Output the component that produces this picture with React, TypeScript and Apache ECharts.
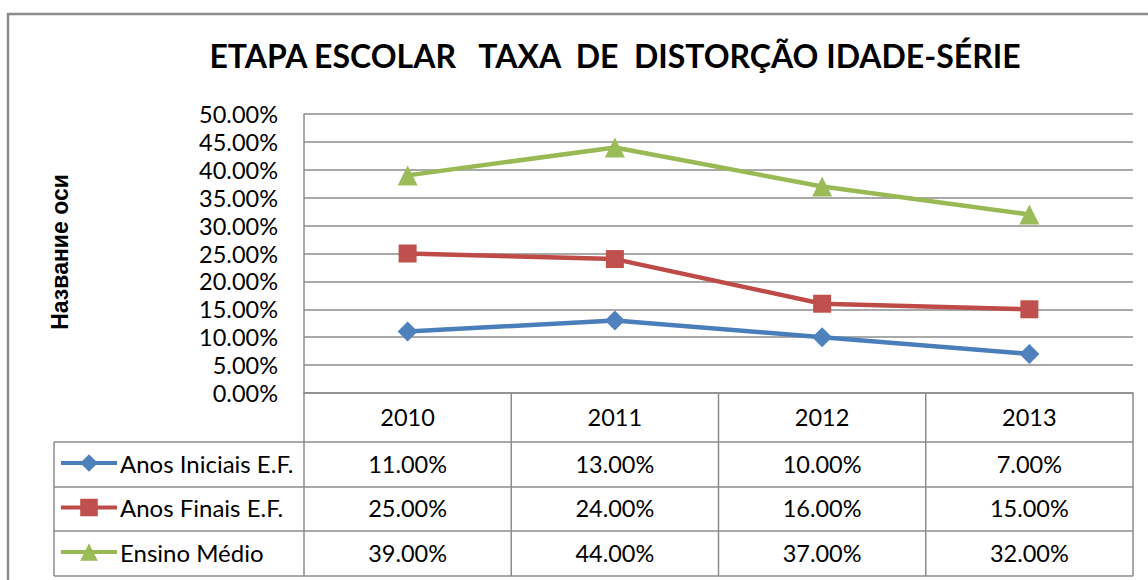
import React, { useEffect, useRef } from "react";
import * as echarts from "echarts";

const titleText = "ETAPA ESCOLAR   TAXA  DE  DISTORÇÃO IDADE-SÉRIE";
const yAxisTitle = "Название оси";
const categories = ["2010", "2011", "2012", "2013"];
const seriesNames = ["Anos Iniciais E.F.", "Anos Finais E.F.", "Ensino Médio"];
const anosIniciais = [11, 13, 10, 7];
const anosFinais = [25, 24, 16, 15];
const ensinoMedio = [39, 44, 37, 32];
const yMin = 0;
const yMax = 50;
const yStep = 5;

const W = 1148;
const H = 580;
const PLOT_L = 304;
const PLOT_R = 1133;
const PLOT_T = 114;
const PLOT_B = 393;
const TABLE_L = 54;
const ROW_LINES = [442, 487, 531, 576];
const GRID_COLOR = "#8c8c8c";
const FONT = "Lato, 'Noto Sans', sans-serif";
const NUM_SIZE = 23.5;
const COLORS = ["#4A7EBB", "#BE4B48", "#98B954"];
const MARKER_COLORS = ["#4F81BD", "#C0504D", "#9BBB59"];
const SYMBOLS = ["diamond", "rect", "triangle"];
const SYMBOL_SIZES = [20, 18, 20];

const fmt = (v: number) => v.toFixed(2) + "%";

export default function App() {
  const ref = useRef<HTMLDivElement>(null);
  useEffect(() => {
    document.body.style.margin = "0";
    const chart = echarts.init(ref.current!, null, { renderer: "svg" });
    const dataSets = [anosIniciais, anosFinais, ensinoMedio];
    const LEG_ITEM_H = 24;
    chart.setOption({
      animation: false,
      backgroundColor: "#ffffff",
      grid: { left: PLOT_L, right: W - PLOT_R, top: PLOT_T, bottom: H - PLOT_B, containLabel: false },
      xAxis: {
        type: "category",
        data: categories,
        boundaryGap: true,
        axisLine: { show: true, lineStyle: { color: GRID_COLOR, width: 1.5 } },
        axisTick: { show: false },
        axisLabel: { color: "#000", fontSize: NUM_SIZE, fontFamily: FONT, margin: 24, verticalAlign: "middle" },
        splitLine: { show: false },
      },
      yAxis: {
        type: "value",
        min: yMin,
        max: yMax,
        interval: yStep,
        axisLine: { show: true, lineStyle: { color: GRID_COLOR, width: 1.5 } },
        axisTick: { show: false },
        axisLabel: { color: "#000", fontSize: NUM_SIZE, fontFamily: FONT, margin: 26, formatter: (v: number) => fmt(v) },
        splitLine: { show: true, lineStyle: { color: GRID_COLOR, width: 1.5 } },
      },
      legend: seriesNames.map((name, r) => ({
        orient: "vertical",
        left: 59,
        top: (ROW_LINES[r] + ROW_LINES[r + 1]) / 2 - LEG_ITEM_H / 2 - 1.5,
        itemWidth: 56,
        itemHeight: 22,
        padding: 0,
        itemGap: 0,
        lineStyle: { width: 4 },
        textStyle: { color: "#000", fontSize: 24, fontFamily: FONT, lineHeight: LEG_ITEM_H, padding: [0, 0, 0, -2] },
        data: [name],
      })),
      series: dataSets.map((d, i) => ({
        name: seriesNames[i],
        type: "line",
        data: d,
        symbol: SYMBOLS[i],
        symbolSize: SYMBOL_SIZES[i],
        lineStyle: { color: COLORS[i], width: 4.5 },
        itemStyle: { color: MARKER_COLORS[i] },
        z: 3,
      })),
    });

    const band = (PLOT_R - PLOT_L) / categories.length;
    const centers = categories.map((c) => chart.convertToPixel({ xAxisIndex: 0 }, c) as number);
    const graphics: any[] = [];
    graphics.push({
      type: "rect",
      shape: { x: 8, y: 14, width: 1400, height: 900 },
      style: { fill: "none", stroke: GRID_COLOR, lineWidth: 2.5 },
      z: 0,
    });
    graphics.push({
      type: "text",
      x: 615,
      y: 55,
      style: { text: titleText, fontSize: 32, fontWeight: "bold", fontFamily: FONT, fill: "#000", textAlign: "center", textVerticalAlign: "middle" },
    });
    graphics.push({
      type: "text",
      x: 60,
      y: 252,
      rotation: Math.PI / 2,
      style: { text: yAxisTitle, fontSize: 23, fontWeight: "bold", fontFamily: "'Liberation Sans', Arial, sans-serif", fill: "#000", textAlign: "center", textVerticalAlign: "middle" },
    });
    ROW_LINES.forEach((y) => {
      graphics.push({
        type: "line",
        shape: { x1: TABLE_L, y1: y, x2: PLOT_R, y2: y },
        style: { stroke: GRID_COLOR, lineWidth: 1.5 },
      });
    });
    graphics.push({
      type: "line",
      shape: { x1: TABLE_L, y1: ROW_LINES[0], x2: TABLE_L, y2: ROW_LINES[ROW_LINES.length - 1] },
      style: { stroke: GRID_COLOR, lineWidth: 1.5 },
    });
    for (let i = 0; i <= categories.length; i++) {
      const x = PLOT_L + i * band;
      graphics.push({
        type: "line",
        shape: { x1: x, y1: PLOT_B, x2: x, y2: ROW_LINES[ROW_LINES.length - 1] },
        style: { stroke: GRID_COLOR, lineWidth: 1.5 },
      });
    }
    dataSets.forEach((d, r) => {
      const yc = (ROW_LINES[r] + ROW_LINES[r + 1]) / 2;
      d.forEach((v, c) => {
        graphics.push({
          type: "text",
          x: centers[c],
          y: yc - 1,
          style: { text: fmt(v), fontSize: NUM_SIZE, fontFamily: FONT, fill: "#000", textAlign: "center", textVerticalAlign: "middle" },
        });
      });
    });
    chart.setOption({ graphic: graphics });
    return () => chart.dispose();
  }, []);
  return <div ref={ref} style={{ width: W, height: H }} />;
}
